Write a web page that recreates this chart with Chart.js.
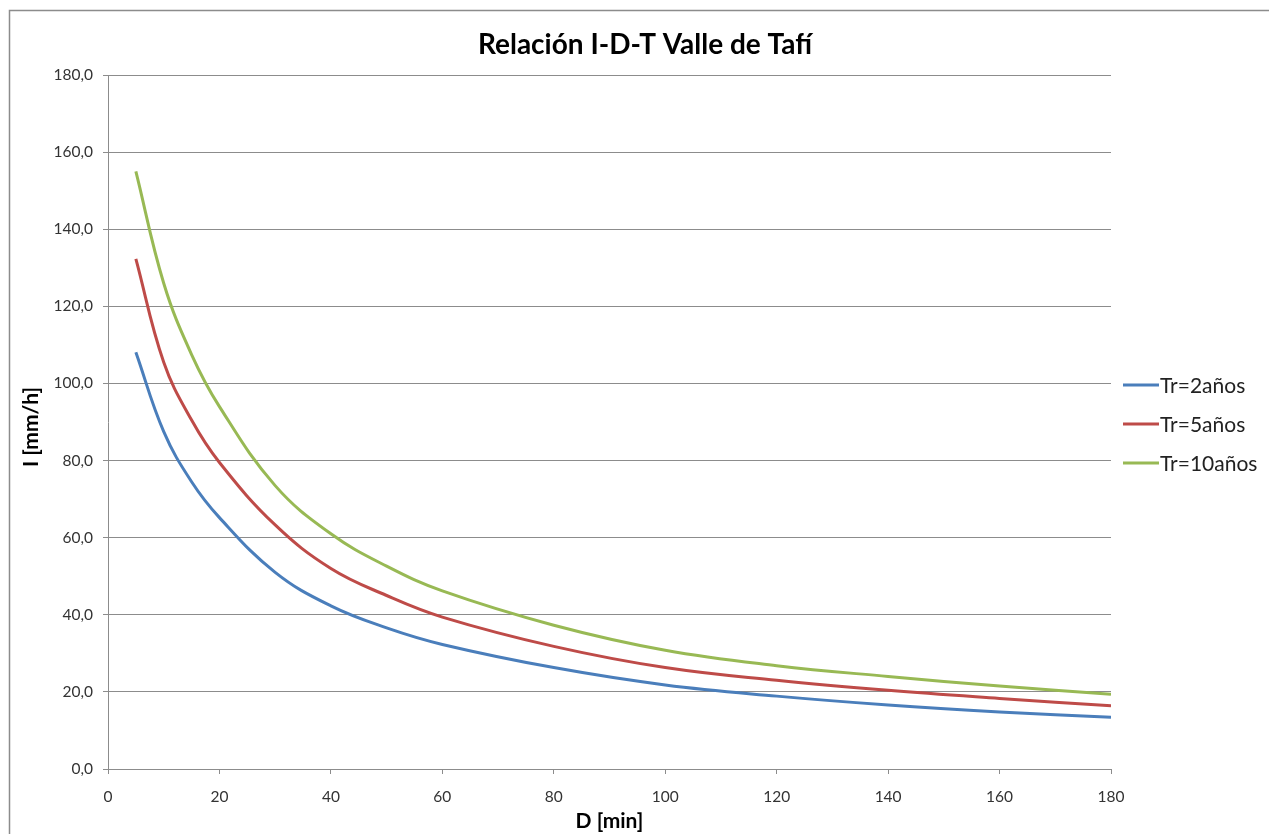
<!DOCTYPE html>
<html>
<head>
<meta charset="utf-8">
<script src="https://cdn.jsdelivr.net/npm/chart.js@4/dist/chart.umd.min.js"></script>
<style>
html,body{margin:0;padding:0;background:#fff;}
#wrap{width:1269px;height:834px;position:relative;}
</style>
</head>
<body>
<div id="wrap"><canvas id="c"></canvas></div>
<script>
const durations = [5, 10, 15, 20, 30, 40, 50, 60, 80, 100, 120, 140, 160, 180];
const tr2  = [108.1, 87.5, 74.5, 65.2, 51.0, 42.3, 36.6, 32.3, 26.3, 21.8, 18.9, 16.6, 14.8, 13.4];
const tr5  = [132.3, 105.5, 90.5, 79.5, 63.3, 52.0, 45.0, 39.4, 31.8, 26.3, 23.0, 20.4, 18.3, 16.4];
const tr10 = [155.0, 126.0, 107.5, 94.0, 73.5, 61.0, 52.6, 46.2, 37.3, 30.8, 26.8, 24.0, 21.5, 19.4];
const seriesNames = ['Tr=2años', 'Tr=5años', 'Tr=10años'];
const seriesColors = ['#4a7ebb', '#be4b48', '#98b954'];
const chartTitle = 'Relación I-D-T Valle de Tafí';
const xTitle = 'D [min]';
const yTitle = 'I [mm/h]';

const toPts = arr => durations.map((d, i) => ({x: d, y: arr[i]}));
const FONT = 'Lato, "Open Sans", sans-serif';

const deco = {
  id: 'deco',
  beforeDraw(chart) {
    const ctx = chart.ctx;
    ctx.save();
    ctx.strokeStyle = '#8c8c8c';
    ctx.lineWidth = 1.5;
    ctx.beginPath();
    ctx.moveTo(9.5, 834);
    ctx.lineTo(9.5, 10.5);
    ctx.lineTo(1269, 10.5);
    ctx.stroke();
    ctx.restore();
  },
  afterDraw(chart) {
    const ctx = chart.ctx;
    const ca = chart.chartArea;
    ctx.save();
    ctx.fillStyle = '#000';
    ctx.font = 'bold 28px ' + FONT;
    ctx.textAlign = 'center';
    ctx.textBaseline = 'middle';
    ctx.fillText(chartTitle, 645, 45);
    ctx.font = 'bold 21px ' + FONT;
    ctx.fillText(xTitle, (ca.left + ca.right) / 2, 821);
    ctx.save();
    ctx.translate(31, 427);
    ctx.rotate(-Math.PI / 2);
    ctx.fillText(yTitle, 0, 0);
    ctx.restore();
    // legend
    ctx.font = '21px ' + FONT;
    ctx.textAlign = 'left';
    ctx.fillStyle = '#222';
    const ys = [385, 424, 463];
    seriesNames.forEach((n, i) => {
      ctx.strokeStyle = seriesColors[i];
      ctx.lineWidth = 3;
      ctx.beginPath();
      ctx.moveTo(1123, ys[i]);
      ctx.lineTo(1159, ys[i]);
      ctx.stroke();
      ctx.fillText(n, 1160, ys[i] + 1);
    });
    ctx.restore();
  }
};

new Chart(document.getElementById('c'), {
  type: 'line',
  data: {
    datasets: [tr2, tr5, tr10].map((arr, i) => ({
      label: seriesNames[i],
      data: toPts(arr),
      borderColor: seriesColors[i],
      backgroundColor: seriesColors[i],
      borderWidth: 3,
      pointRadius: 0,
      tension: 0.4,
      fill: false
    }))
  },
  options: {
    responsive: true,
    maintainAspectRatio: false,
    animation: false,
    layout: {padding: {top: 75, right: 158, left: 0, bottom: 0}},
    plugins: {legend: {display: false}, title: {display: false}, tooltip: {enabled: false}},
    scales: {
      x: {
        type: 'linear', min: 0, max: 180,
        afterFit(s) { s.height = 65; },
        ticks: {stepSize: 20, padding: 14, color: '#333', font: {size: 15.5, family: FONT}},
        grid: {display: true, drawOnChartArea: false, drawTicks: true, tickLength: 5, color: '#8c8c8c'},
        border: {color: '#8c8c8c', width: 1}
      },
      y: {
        min: 0, max: 180,
        afterFit(s) { s.width = 108; },
        ticks: {stepSize: 20, padding: 10, color: '#333', font: {size: 15.5, family: FONT},
          callback: v => v.toFixed(1).replace('.', ',')},
        grid: {color: '#8c8c8c', tickLength: 5, lineWidth: 1},
        border: {color: '#8c8c8c', width: 1}
      }
    }
  },
  plugins: [deco]
});
</script>
</body>
</html>
